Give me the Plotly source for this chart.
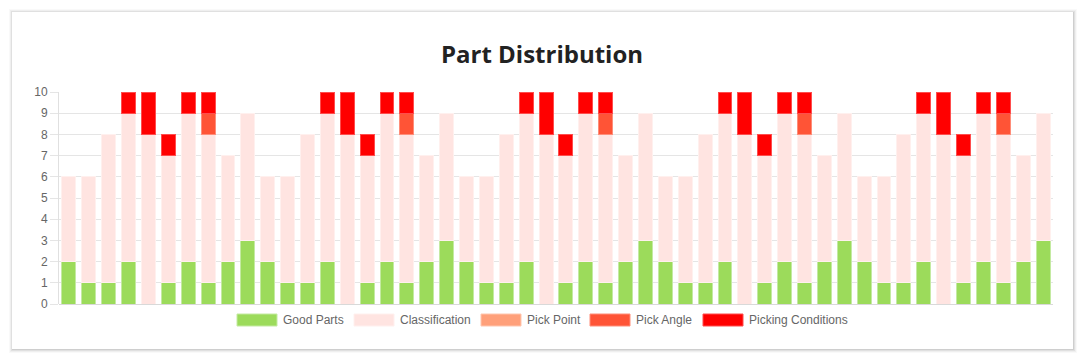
import plotly.graph_objects as go

categories = [str(i) for i in range(1, 51)]

good_parts = [2, 1, 1, 2, 0, 1, 2, 1, 2, 3,
              2, 1, 1, 2, 0, 1, 2, 1, 2, 3,
              2, 1, 1, 2, 0, 1, 2, 1, 2, 3,
              2, 1, 1, 2, 0, 1, 2, 1, 2, 3,
              2, 1, 1, 2, 0, 1, 2, 1, 2, 3]
classification = [4, 5, 7, 7, 8, 6, 7, 7, 5, 6,
                  4, 5, 7, 7, 8, 6, 7, 7, 5, 6,
                  4, 5, 7, 7, 8, 6, 7, 7, 5, 6,
                  4, 5, 7, 7, 8, 6, 7, 7, 5, 6,
                  4, 5, 7, 7, 8, 6, 7, 7, 5, 6]
pick_point = [0] * 50
pick_angle = [0, 0, 0, 0, 0, 0, 0, 1, 0, 0,
              0, 0, 0, 0, 0, 0, 0, 1, 0, 0,
              0, 0, 0, 0, 0, 0, 0, 1, 0, 0,
              0, 0, 0, 0, 0, 0, 0, 1, 0, 0,
              0, 0, 0, 0, 0, 0, 0, 1, 0, 0]
picking_conditions = [0, 0, 0, 1, 2, 1, 1, 1, 0, 0,
                      0, 0, 0, 1, 2, 1, 1, 1, 0, 0,
                      0, 0, 0, 1, 2, 1, 1, 1, 0, 0,
                      0, 0, 0, 1, 2, 1, 1, 1, 0, 0,
                      0, 0, 0, 1, 2, 1, 1, 1, 0, 0]

series_names = ["Good Parts", "Classification", "Pick Point", "Pick Angle", "Picking Conditions"]
series_values = [good_parts, classification, pick_point, pick_angle, picking_conditions]
series_colors = ["#9cdb5b", "#ffe4e1", "#ffa07a", "#ff5436", "#ff0000"]
border_colors = ["#c4eaa2", "#fff0ee", "#ffc6ae", "#ff8d79", "#ff4d4d"]

W, H = 1084, 361
L, R, T, B = 59, 1053, 92, 304
pw, ph = R - L, B - T

def px(x):
    return (x - L) / pw

def py(y):
    return (B - y) / ph

fig = go.Figure()
for name, vals, col, bcol in zip(series_names, series_values, series_colors, border_colors):
    fig.add_trace(go.Bar(
        x=categories, y=[v if v else None for v in vals], name=name,
        marker=dict(color=col, line=dict(color=bcol, width=1)),
        showlegend=False,
    ))

shapes = []
# card shadow + card
for off, colr in [(4, "rgba(0,0,0,0.025)"), (3, "rgba(0,0,0,0.04)"), (2, "rgba(0,0,0,0.06)"), (1, "rgba(0,0,0,0.08)")]:
    shapes.append(dict(type="rect", xref="paper", yref="paper", layer="below",
                       x0=px(12 - off + 1), x1=px(1073 + off), y0=py(349 + off), y1=py(12 - off + 1),
                       line=dict(width=0), fillcolor=colr))
shapes.append(dict(type="rect", xref="paper", yref="paper", layer="below",
                   x0=px(12), x1=px(1073), y0=py(349), y1=py(12),
                   line=dict(width=0), fillcolor="#ffffff"))

annotations = []
legend_box_x = [237, 354, 481, 590, 703]
for name, col, bcol, bx in zip(series_names, series_colors, border_colors, legend_box_x):
    shapes.append(dict(type="rect", xref="paper", yref="paper",
                       x0=px(bx), x1=px(bx + 40), y0=py(326), y1=py(314),
                       line=dict(color=bcol, width=1), fillcolor=col))
    annotations.append(dict(xref="paper", yref="paper", x=px(bx + 44), y=py(320),
                            xanchor="left", yanchor="middle", showarrow=False,
                            text=name, font=dict(family="Liberation Sans, Arial, sans-serif",
                                                 size=12, color="#666666")))

fig.update_layout(
    width=W, height=H,
    margin=dict(l=L, r=W - R, t=T, b=H - B),
    paper_bgcolor="#ffffff", plot_bgcolor="rgba(0,0,0,0)",
    barmode="stack", bargap=0.3,
    title=dict(text="<b>Part Distribution</b>", x=0.5, xanchor="center",
               y=1 - 55 / H, yanchor="middle",
               font=dict(family="Open Sans, sans-serif", size=24, color="#222222")),
    xaxis=dict(showticklabels=False, showgrid=False, zeroline=False,
               showline=False, ticks=""),
    yaxis=dict(range=[0, 10], dtick=1, tick0=0, showgrid=True, gridcolor="#e5e5e5",
               gridwidth=1, zeroline=True, zerolinecolor="#d9d9d9", zerolinewidth=1,
               showline=True, linecolor="#e0e0e0", linewidth=1,
               ticks="outside", ticklen=8, tickcolor="#e5e5e5",
               tickfont=dict(family="Liberation Sans, Arial, sans-serif", size=12, color="#666666")),
    shapes=shapes, annotations=annotations,
)

fig.write_html("out.html", config={"displayModeBar": False},
               post_script="document.body.style.margin='0';document.body.style.overflow='hidden';")
